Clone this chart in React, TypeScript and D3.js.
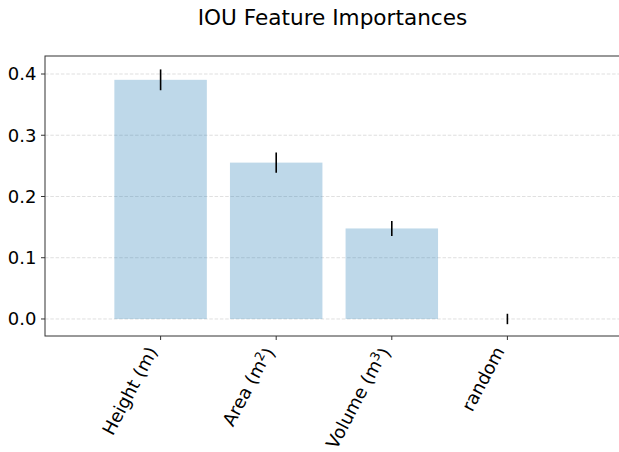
import React, { useEffect, useRef } from 'react';
import * as d3 from 'd3';

// feature importances
const features = ['Height (m)', 'Area (m2)', 'Volume (m3)', 'random'];
const labelBase = ['Height (m)', 'Area (m', 'Volume (m', 'random'];
const labelSup = ['', '2', '3', ''];
const importances = [0.3905, 0.2553, 0.1478, 0.0];
const errors = [0.017, 0.0164, 0.0123, 0.0085];
const yTicks = [0.0, 0.1, 0.2, 0.3, 0.4];

const W = 619;
const H = 452;

export default function App() {
  const ref = useRef<SVGSVGElement>(null);

  useEffect(() => {
    const svg = d3.select(ref.current);
    svg.selectAll('*').remove();

    const left = 45, right = 623, top = 56, bottom = 336;
    const font = 'DejaVu Sans, sans-serif';
    const fs = 18;

    // xlim is [-1, 4] in index units
    const x = d3.scaleLinear().domain([-1, 4]).range([left, right]);
    const y = d3.scaleLinear().domain([-0.0278, 0.4294]).range([bottom, top]);
    const unit = x(1) - x(0);
    const barW = unit * 0.8;

    svg.append('text')
      .attr('x', (left + 618) / 2 + 1)
      .attr('y', 25)
      .attr('text-anchor', 'middle')
      .style('font-family', font)
      .style('font-size', '21.6px')
      .text('IOU Feature Importances');

    // grid
    svg.append('g').selectAll('line')
      .data(yTicks)
      .enter()
      .append('line')
      .attr('x1', left).attr('x2', right)
      .attr('y1', d => y(d)).attr('y2', d => y(d))
      .attr('stroke', '#b0b0b0')
      .attr('stroke-opacity', 0.5)
      .attr('stroke-width', 0.8)
      .attr('stroke-dasharray', '3.5,1.8');

    // bars
    svg.append('g').selectAll('rect')
      .data(importances)
      .enter()
      .append('rect')
      .attr('x', (d, i) => x(i) - barW / 2)
      .attr('width', barW)
      .attr('y', d => y(d))
      .attr('height', d => y(0) - y(d))
      .attr('fill', '#1f77b4')
      .attr('fill-opacity', 0.29);

    // error bars
    svg.append('g').selectAll('line')
      .data(importances)
      .enter()
      .append('line')
      .attr('x1', (d, i) => x(i)).attr('x2', (d, i) => x(i))
      .attr('y1', (d, i) => y(d + errors[i]))
      .attr('y2', (d, i) => y(d - errors[i]))
      .attr('stroke', '#000')
      .attr('stroke-width', 1.6);

    // spines
    const sp = svg.append('g').attr('stroke', '#333').attr('stroke-width', 1).attr('fill', 'none');
    sp.append('rect').attr('x', left).attr('y', top).attr('width', right - left).attr('height', bottom - top);

    // y axis ticks
    const yg = svg.append('g');
    yg.selectAll('line')
      .data(yTicks)
      .enter()
      .append('line')
      .attr('x1', left - 4).attr('x2', left)
      .attr('y1', d => y(d)).attr('y2', d => y(d))
      .attr('stroke', '#333');
    yg.selectAll('text')
      .data(yTicks)
      .enter()
      .append('text')
      .attr('x', left - 8.5)
      .attr('y', d => y(d))
      .attr('dy', '0.36em')
      .attr('text-anchor', 'end')
      .style('font-family', font)
      .style('font-size', fs + 'px')
      .text(d => d3.format('.1f')(d));

    // x axis ticks and rotated labels
    const xg = svg.append('g');
    xg.selectAll('line')
      .data(features)
      .enter()
      .append('line')
      .attr('x1', (d, i) => x(i)).attr('x2', (d, i) => x(i))
      .attr('y1', bottom).attr('y2', bottom + 4)
      .attr('stroke', '#333');
    const lbl = xg.selectAll('text')
      .data(features)
      .enter()
      .append('text')
      .attr('transform', (d, i) => 'translate(' + (x(i) - 2.5) + ',' + (bottom + 15) + ') rotate(-62)')
      .attr('text-anchor', 'end')
      .style('font-family', font)
      .style('font-size', fs + 'px');
    lbl.each(function (d, i) {
      const t = d3.select(this);
      t.append('tspan').text(labelBase[i]);
      if (labelSup[i]) {
        t.append('tspan').attr('dy', '-0.45em').style('font-size', '12.6px').text(labelSup[i]);
        t.append('tspan').attr('dy', '0.45em').text(')');
      }
    });
  }, []);

  return (
    <svg ref={ref} width={W} height={H}
      style={{ position: 'absolute', left: 0, top: 0, background: '#fff' }} />
  );
}
